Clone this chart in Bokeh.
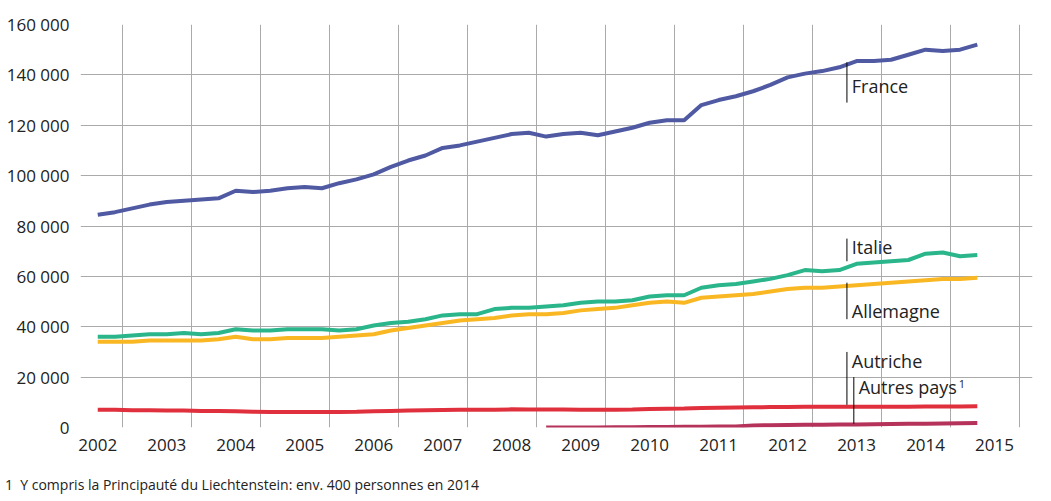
from bokeh.plotting import figure
from bokeh.models import FixedTicker, Grid, Range1d, CustomJSTickFormatter, Div, Label
from bokeh.layouts import column
from bokeh.embed import file_html
from bokeh.resources import INLINE

years = [2002 + i * 0.25 for i in range(52)]
france = [84.5,85.5,87,88.5, 89.5,90,90.5,91, 94,93.5,94,95, 95.5,95,97,98.5,
          100.5,103.5,106,108, 111,112,113.5,115, 116.5,117,115.5,116.5, 117,116,117.5,119,
          121,122,122,128, 130,131.5,133.5,136, 139,140.5,141.5,143, 145.5,145.5,146,148,
          150,149.5,150,152]
italie = [36,36,36.5,37, 37,37.5,37,37.5, 39,38.5,38.5,39, 39,39,38.5,39,
          40.5,41.5,42,43, 44.5,45,45,47, 47.5,47.5,48,48.5, 49.5,50,50,50.5,
          52,52.5,52.5,55.5, 56.5,57,58,59, 60.5,62.5,62,62.5, 65,65.5,66,66.5,
          69,69.5,68,68.5]
allemagne = [34,34,34,34.5, 34.5,34.5,34.5,35, 36,35,35,35.5, 35.5,35.5,36,36.5,
             37,38.5,39.5,40.5, 41.5,42.5,43,43.5, 44.5,45,45,45.5, 46.5,47,47.5,48.5,
             49.5,50,49.5,51.5, 52,52.5,53,54, 55,55.5,55.5,56, 56.5,57,57.5,58,
             58.5,59,59,59.5]
autriche = [7,7,6.8,6.8, 6.7,6.7,6.6,6.6, 6.5,6.3,6.2,6.2, 6.2,6.2,6.2,6.3,
            6.5,6.6,6.7,6.8, 6.9,7,7,7, 7.2,7.1,7.1,7.1, 7,7,7,7.1,
            7.3,7.4,7.5,7.7, 7.8,7.9,8,8.1, 8.1,8.2,8.2,8.2, 8.2,8.2,8.2,8.2,
            8.3,8.3,8.3,8.4]
autres_start = 26
autres = [0,0,0,0,0.1,0.1,0.2,0.2,0.3,0.3,0.4,0.4,0.8,0.9,1,1.1,1.1,1.2,1.2,1.3,
          1.4,1.5,1.5,1.6,1.7,1.8]
tick_years = list(range(2002, 2016))

FONT = "Open Sans"
p = figure(width=1040, height=467, output_backend="svg", toolbar_location=None,
           x_range=Range1d(2001.75, 2015.55), y_range=Range1d(0, 160000),
           min_border_left=80, min_border_right=8, min_border_top=24, min_border_bottom=40)
p.outline_line_color = None
p.xgrid.visible = False
p.ygrid.grid_line_color = "#aaaaaa"
p.ygrid.ticker = FixedTicker(ticks=list(range(0, 160001, 20000)))
p.add_layout(Grid(dimension=0, ticker=FixedTicker(ticks=[y + 0.36 for y in tick_years]),
                  grid_line_color="#aaaaaa"))
p.xaxis.ticker = FixedTicker(ticks=tick_years)
p.yaxis.ticker = FixedTicker(ticks=list(range(0, 160001, 20000)))
p.yaxis.formatter = CustomJSTickFormatter(code="return tick==0?'0':(tick/1000).toFixed(0)+' 000';")
for ax in (p.xaxis, p.yaxis):
    ax.axis_line_color = None
    ax.major_tick_line_color = None
    ax.minor_tick_line_color = None
    ax.major_label_text_font = FONT
    ax.major_label_text_font_size = "17px"
    ax.major_label_text_color = "#222222"

def k(v): return [x * 1000 for x in v]
p.line(years, k(autriche), color="#e0303d", line_width=4)
p.line(years[autres_start:], k(autres), color="#b5325a", line_width=4)
p.line(years, k(allemagne), color="#f9b823", line_width=4)
p.line(years, k(italie), color="#2bb58a", line_width=4)
p.line(years, k(france), color="#4f5aa3", line_width=4)

lx = 2012.86
for x0, y0, y1, txt, ty in [(lx, 145000, 129000, "France", 131000),
                             (lx, 75000, 66000, "Italie", 67000),
                             (lx, 57500, 43000, "Allemagne", 41500),
                             (lx, 30000, 9000, "Autriche", 21500),
                             (lx + 0.1, 20000, 1500, "Autres pays", 11500)]:
    p.segment(x0, y0, x0, y1, color="black", line_width=1)
    p.add_layout(Label(x=x0 + 0.07, y=ty, text=txt, text_font=FONT,
                       text_font_size="18px", text_color="#222222"))
p.add_layout(Label(x=lx + 0.1 + 1.52, y=15500, text="1", text_font=FONT,
                   text_font_size="11px", text_color="#222222"))

foot = Div(text="1&nbsp;&nbsp;Y compris la Principauté du Liechtenstein: env. 400 personnes en 2014",
           styles={"font-family": FONT, "font-size": "14px", "color": "#222", "margin-top": "8px"},
           width=1000)
out = column(p, foot, spacing=0)
open("out.html", "w").write(file_html(out, INLINE))
